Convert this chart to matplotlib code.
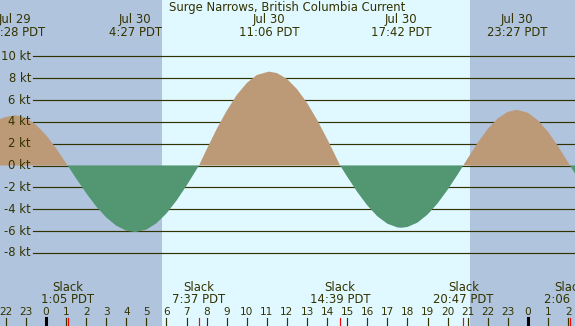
import numpy as np
import matplotlib
matplotlib.use('Agg')
import matplotlib.pyplot as plt
import matplotlib.transforms as mtransforms

# current speed (kt), hours from Jul 30 00:00 PDT
hours = [-2.5, -2.0, -1.53, -1.0, -0.5, 0.0, 0.5, 1.08, 1.5, 2.0, 2.5, 3.0, 3.5, 4.0, 4.45,
         5.0, 5.5, 6.0, 6.5, 7.0, 7.62, 8.0, 8.5, 9.0, 9.5, 10.0, 10.5, 11.1, 11.5, 12.0,
         12.5, 13.0, 13.5, 14.0, 14.5, 14.65, 15.0, 15.5, 16.0, 16.5, 17.0, 17.5, 17.7, 18.0,
         18.5, 19.0, 19.5, 20.0, 20.5, 20.78, 21.0, 21.5, 22.0, 22.5, 23.0, 23.45, 24.0, 24.5,
         25.0, 25.5, 26.1, 26.5]
knots = [4.1, 4.45, 4.6, 4.37, 3.74, 2.79, 1.58, 0.0, -1.18, -2.53, -3.75, -4.76, -5.51, -5.97, -6.1,
         -5.87, -5.29, -4.39, -3.21, -1.84, 0.0, 1.48, 3.34, 5.02, 6.46, 7.56, 8.29, 8.6, 8.47, 7.93,
         7.0, 5.74, 4.19, 2.44, 0.57, 0.0, -1.02, -2.42, -3.65, -4.65, -5.33, -5.67, -5.7, -5.63,
         -5.23, -4.49, -3.47, -2.22, -0.82, 0.0, 0.65, 2.09, 3.35, 4.32, 4.92, 5.1, 4.83, 4.14,
         3.1, 1.77, 0.0, -1.2]

# max flood / max ebb events (top labels)
peak_times = [-1.53, 4.45, 11.1, 17.7, 23.45]
peak_dates = ['Jul 29', 'Jul 30', 'Jul 30', 'Jul 30', 'Jul 30']
peak_clock = ['22:28 PDT', '4:27 PDT', '11:06 PDT', '17:42 PDT', '23:27 PDT']

# slack water (bottom labels)
slack_times = [1.08, 7.62, 14.65, 20.78, 26.1]
slack_clock = ['1:05 PDT', '7:37 PDT', '14:39 PDT', '20:47 PDT', '2:06 PDT']

sunrise = 5.78
sunset = 21.1
tick_hours = list(range(-2, 27))
grid_levels = [10, 8, 6, 4, 2, 0, -2, -4, -6, -8]

txt_col = '#333300'
fs = 8.4

fig = plt.figure(figsize=(5.75, 3.26), dpi=100)
ax = fig.add_axes([0, 0, 1, 1])
ax.set_xlim(-2.291, 26.345)
ax.set_ylim(-14.70, 15.16)
ax.axis('off')

# night / day background
ax.axvspan(-5, sunrise, color='#b0c4de', lw=0, zorder=0)
ax.axvspan(sunrise, sunset, color='#e0f8ff', lw=0, zorder=0)
ax.axvspan(sunset, 30, color='#b0c4de', lw=0, zorder=0)

for lev in grid_levels:
    ax.axhline(lev, xmin=33/575., xmax=1, color=txt_col, lw=0.85, zorder=1)
    ax.text(-0.75, lev, str(lev) + ' kt', ha='right', va='center', fontsize=fs, color=txt_col)

h = np.array(hours)
k = np.array(knots)
ax.fill_between(h, 0, k, where=k >= 0, interpolate=True, color='#bc9a78', lw=0, zorder=2)
ax.fill_between(h, 0, k, where=k <= 0, interpolate=True, color='#529672', lw=0, zorder=2)

trans = mtransforms.blended_transform_factory(ax.transData, ax.transAxes)

ax.text(0.5, 0.9785, 'Surge Narrows, British Columbia Current', transform=ax.transAxes,
        ha='center', va='center', fontsize=fs, color=txt_col)

for t, d, c in zip(peak_times, peak_dates, peak_clock):
    ax.text(t, 0.9387, d, transform=trans, ha='center', va='center', fontsize=fs, color=txt_col)
    ax.text(t, 0.9018, c, transform=trans, ha='center', va='center', fontsize=fs, color=txt_col)

for t, c in zip(slack_times, slack_clock):
    ax.text(t, 0.1196, 'Slack', transform=trans, ha='center', va='center', fontsize=fs, color=txt_col)
    ax.text(t, 0.0828, c, transform=trans, ha='center', va='center', fontsize=fs, color=txt_col)
    ax.plot([t, t], [0, 0.0245], transform=trans, color='red', lw=0.85, zorder=3)

for hr in tick_hours:
    ax.text(hr, 0.0429, str(hr % 24), transform=trans, ha='center', va='center', fontsize=7.6, color=txt_col)
    if hr % 24 == 0:
        ax.plot([hr, hr], [0, 0.0245], transform=trans, color='black', lw=2.2, zorder=3)
    else:
        ax.plot([hr, hr], [0, 0.0245], transform=trans, color=txt_col, lw=0.85, zorder=3)

plt.savefig('out.png', dpi=100)
